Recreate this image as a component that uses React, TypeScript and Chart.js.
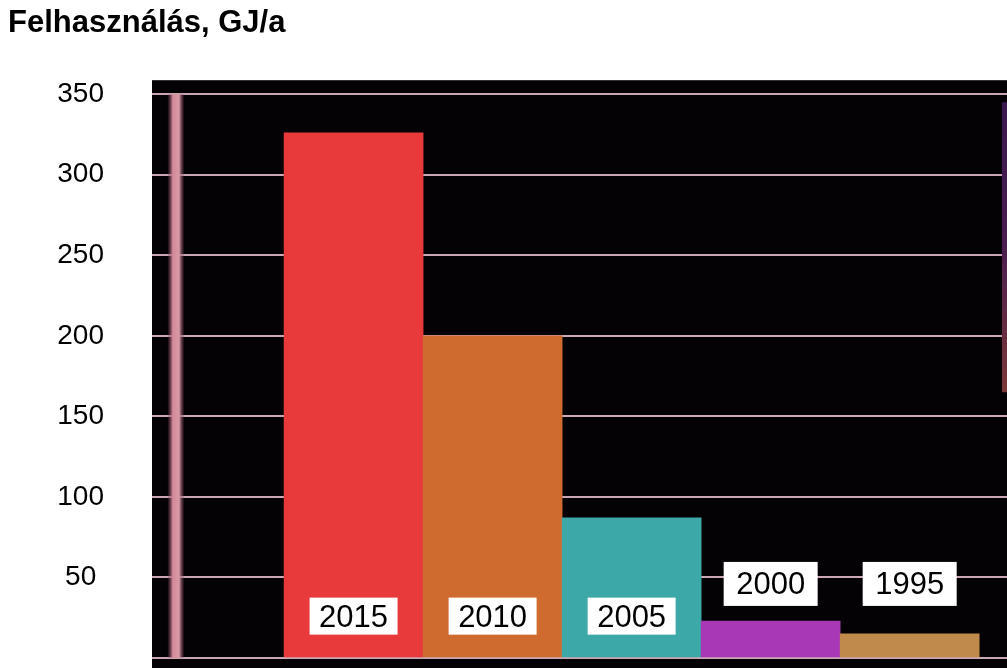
import React, { useEffect, useRef } from "react";
import { Chart, registerables } from "chart.js";

Chart.register(...registerables);

// ---- data ----
const categories: string[] = ["2015", "2010", "2005", "2000", "1995"];
const consumption: number[] = [326, 200, 87, 23, 15];
const barColors: string[] = ["#e83a3a", "#d06b30", "#3ca8a8", "#a838b6", "#c08a4a"];
const yTickValues: number[] = [0, 50, 100, 150, 200, 250, 300, 350];
const titleText = "Felhasználás, GJ/a";

const FONT = "'Liberation Sans', Arial, sans-serif";

const plotBackground = {
  id: "plotBackground",
  beforeDraw(chart: any) {
    const { ctx, chartArea } = chart;
    ctx.save();
    ctx.fillStyle = "#050205";
    ctx.fillRect(chartArea.left, chartArea.top, chartArea.right - chartArea.left, chartArea.bottom - chartArea.top);
    ctx.restore();
  },
  beforeDatasetsDraw(chart: any) {
    // faint vertical stripes at the left and right of the plot (as in the reference)
    const { ctx, scales, chartArea } = chart;
    const x = scales.x.getPixelForValue(-1.278);
    const yTop = scales.y.getPixelForValue(350);
    const yBot = scales.y.getPixelForValue(0);
    ctx.save();
    const g = ctx.createLinearGradient(x - 8, 0, x + 8, 0);
    g.addColorStop(0, "rgba(120,60,90,0.2)");
    g.addColorStop(0.3, "#d48a98");
    g.addColorStop(0.7, "#d89aa6");
    g.addColorStop(1, "rgba(120,60,90,0.2)");
    ctx.fillStyle = g;
    ctx.fillRect(x - 8, yTop, 16, yBot - yTop);
    const rTop = scales.y.getPixelForValue(345);
    const rMid = scales.y.getPixelForValue(260);
    const rBot = scales.y.getPixelForValue(165);
    const g2 = ctx.createLinearGradient(0, rTop, 0, rBot);
    g2.addColorStop(0, "#3a1850");
    g2.addColorStop((rMid - rTop) / (rBot - rTop), "#4a1c50");
    g2.addColorStop(1, "#7a3838");
    ctx.fillStyle = g2;
    ctx.fillRect(chartArea.right - 5, rTop, 5, rBot - rTop);
    ctx.restore();
  },
};

const yearLabels = {
  id: "yearLabels",
  afterDatasetsDraw(chart: any) {
    const { ctx, scales } = chart;
    ctx.save();
    ctx.font = `31px ${FONT}`;
    ctx.textAlign = "center";
    ctx.textBaseline = "middle";
    categories.forEach((label, i) => {
      const v = consumption[i];
      const cx = scales.x.getPixelForValue(i);
      const cyVal = v > 60 ? 26 : 46;
      const cy = scales.y.getPixelForValue(cyVal);
      const w = v > 60 ? 88 : 94;
      const h = v > 60 ? 37 : 44;
      ctx.fillStyle = "#ffffff";
      ctx.fillRect(cx - w / 2, cy - h / 2, w, h);
      ctx.fillStyle = "#000000";
      ctx.fillText(label, cx, cy + 2);
    });
    ctx.restore();
  },
};

export default function App() {
  const ref = useRef<HTMLCanvasElement | null>(null);

  useEffect(() => {
    document.body.style.margin = "0";
    document.body.style.background = "#ffffff";
    const canvas = ref.current!;
    const chart = new Chart(canvas, {
      type: "bar",
      data: {
        datasets: [
          {
            label: titleText,
            data: consumption.map((v, i) => ({ x: i, y: v })),
            backgroundColor: barColors,
            borderWidth: 0,
            barPercentage: 1,
            categoryPercentage: 1,
          },
        ],
      },
      options: {
        animation: false,
        responsive: false,
        layout: { padding: { left: 8, right: 0, top: 0, bottom: 0 } },
        plugins: {
          legend: { display: false },
          tooltip: { enabled: false },
          title: {
            display: true,
            text: titleText,
            align: "start",
            color: "#000000",
            font: { family: FONT, size: 31, weight: "bold" },
            lineHeight: 1.2,
            padding: { top: 5, bottom: 38 },
          },
        },
        scales: {
          x: {
            type: "linear",
            display: false,
            min: -1.45,
            max: 4.7,
            offset: false,
            afterBuildTicks(scale: any) {
              scale.ticks = categories.map((_, i) => ({ value: i }));
            },
          },
          y: {
            min: -6.2,
            max: 358.7,
            afterBuildTicks(scale: any) {
              scale.ticks = yTickValues.map((v) => ({ value: v }));
            },
            afterFit(scale: any) {
              scale.width = 144;
              scale.paddingTop = 0;
              scale.paddingBottom = 0;
            },
            border: { display: false },
            grid: {
              color: "rgba(225,185,200,0.9)",
              lineWidth: 2,
              drawTicks: false,
            },
            ticks: {
              padding: 48,
              crossAlign: "center",
              color: "#000000",
              font: { family: FONT, size: 28 },
              callback: (v: any) => (v === 0 ? "" : String(v)),
            },
          },
        },
      },
      plugins: [plotBackground, yearLabels],
    });
    return () => chart.destroy();
  }, []);

  return (
    <div style={{ width: 1007, height: 668 }}>
      <canvas ref={ref} width={1007} height={668} style={{ display: "block" }} />
    </div>
  );
}
